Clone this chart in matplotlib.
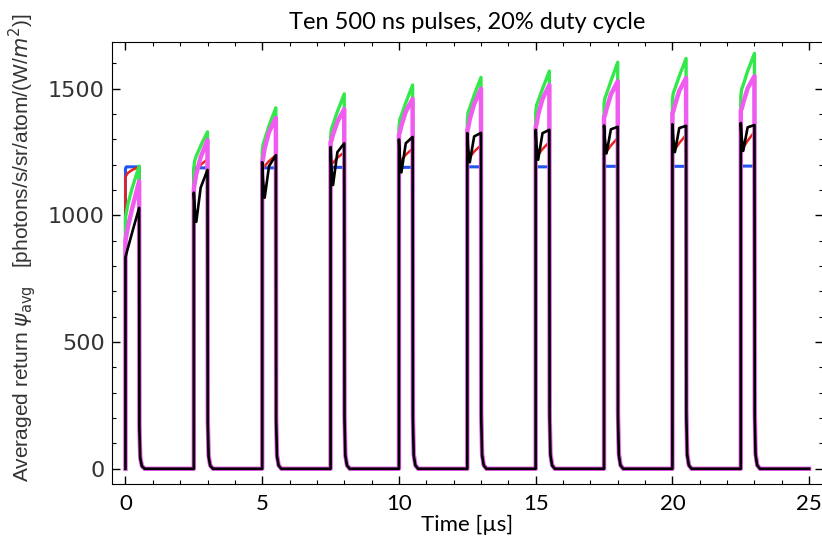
import matplotlib
matplotlib.use('Agg')
import matplotlib.pyplot as plt
from matplotlib.ticker import MultipleLocator
import numpy as np

# pulse layout (µs)
pulse_starts = [0.0, 2.5, 5.0, 7.5, 10.0, 12.5, 15.0, 17.5, 20.0, 22.5]
t_end = 25.0

# sample times inside each pulse, relative to pulse start
pulse_t = [0.0, 0.03, 0.09, 0.25, 0.5]

# falling edge after the pulse: time after pulse end, fraction of end value
tail_t = [0.0, 0.01, 0.04, 0.1, 0.2]
tail_frac = [1.0, 0.15, 0.04, 0.01, 0.0]

# values, one row per pulse
blue_vals = [
    [1185, 1192, 1192, 1192, 1192],
    [1185, 1188, 1188, 1188, 1188],
    [1186, 1188, 1188, 1188, 1188],
    [1188, 1190, 1190, 1190, 1190],
    [1188, 1190, 1190, 1190, 1190],
    [1190, 1192, 1192, 1192, 1192],
    [1190, 1192, 1192, 1192, 1192],
    [1192, 1194, 1194, 1194, 1194],
    [1192, 1194, 1194, 1194, 1194],
    [1192, 1195, 1195, 1195, 1195],
]
red_vals = [
    [1150, 1158, 1168, 1180, 1192],
    [1185, 1178, 1182, 1200, 1222],
    [1205, 1192, 1195, 1215, 1238],
    [1215, 1205, 1208, 1228, 1250],
    [1230, 1215, 1218, 1240, 1264],
    [1240, 1228, 1230, 1252, 1278],
    [1250, 1236, 1240, 1262, 1290],
    [1260, 1248, 1252, 1276, 1306],
    [1270, 1255, 1260, 1286, 1318],
    [1275, 1262, 1268, 1295, 1330],
]
green_vals = [
    [990, 1010, 1045, 1110, 1195],
    [1190, 1215, 1235, 1275, 1330],
    [1250, 1280, 1300, 1355, 1425],
    [1310, 1340, 1360, 1410, 1480],
    [1345, 1378, 1395, 1445, 1515],
    [1375, 1408, 1425, 1475, 1545],
    [1405, 1435, 1452, 1500, 1570],
    [1440, 1462, 1480, 1530, 1605],
    [1456, 1482, 1500, 1550, 1620],
    [1470, 1498, 1515, 1570, 1640],
]
magenta_vals = [
    [900, 920, 955, 1030, 1135],
    [1105, 1125, 1165, 1230, 1298],
    [1210, 1225, 1265, 1330, 1385],
    [1290, 1295, 1320, 1370, 1420],
    [1320, 1328, 1355, 1410, 1460],
    [1338, 1345, 1380, 1440, 1500],
    [1350, 1360, 1398, 1460, 1515],
    [1390, 1395, 1420, 1478, 1530],
    [1405, 1410, 1435, 1492, 1543],
    [1415, 1420, 1445, 1502, 1550],
]
black_vals = [
    [835, 848, 872, 935, 1030],
    [1090, 1030, 975, 1110, 1180],
    [1210, 1140, 1070, 1195, 1238],
    [1270, 1195, 1120, 1250, 1285],
    [1300, 1235, 1170, 1285, 1310],
    [1325, 1268, 1210, 1312, 1326],
    [1338, 1280, 1220, 1325, 1338],
    [1355, 1300, 1245, 1340, 1350],
    [1360, 1305, 1250, 1345, 1354],
    [1365, 1310, 1255, 1348, 1357],
]


def build_trace(vals):
    t, y = [], []
    for start, row in zip(pulse_starts, vals):
        t.append(start)
        y.append(0.0)
        for dt, v in zip(pulse_t, row):
            t.append(start + dt)
            y.append(v)
        end = start + pulse_t[-1]
        for dt, f in zip(tail_t[1:], tail_frac[1:]):
            t.append(end + dt)
            y.append(row[-1] * f)
    t.append(t_end)
    y.append(0.0)
    return np.array(t), np.array(y)


series = [
    (blue_vals, '#2255ee', 2.2),
    (red_vals, '#e8251c', 1.8),
    (green_vals, '#33e84a', 2.4),
    (magenta_vals, '#f05cf0', 3.2),
    (black_vals, '#000000', 1.9),
]

fig = plt.figure(figsize=(8.22, 5.45), dpi=100)
ax = fig.add_axes([0.136, 0.112, 0.865, 0.811])

for vals, color, lw in series:
    t, y = build_trace(vals)
    ax.plot(t, y, color=color, lw=lw, solid_joinstyle='round')

ax.set_xlim(-0.5, 25.5)
ax.set_ylim(-60, 1685)
ax.xaxis.set_major_locator(MultipleLocator(5))
ax.xaxis.set_minor_locator(MultipleLocator(1))
ax.yaxis.set_major_locator(MultipleLocator(500))
ax.yaxis.set_minor_locator(MultipleLocator(100))
ax.tick_params(which='both', direction='in', top=True, right=True)
ax.tick_params(which='major', length=6, width=1)
ax.tick_params(which='minor', length=3, width=0.8)
ax.tick_params(axis='y', labelsize=16, labelcolor='#333333', pad=5)
ax.tick_params(axis='x', pad=7)
for lab in ax.get_xticklabels():
    lab.set_fontfamily('Lato')
    lab.set_fontsize(16)

ax.set_title('Ten 500 ns pulses, 20% duty cycle', fontsize=17, family='Lato', pad=9)
ax.set_xlabel('Time [µs]', fontsize=16, family='Lato', labelpad=1)
ax.set_ylabel(r'Averaged return $\psi_{\rm avg}$   [photons/s/sr/atom/(W/$m^2$)]',
              fontsize=15, color='#333333', family='Liberation Sans')
ax.yaxis.set_label_coords(-0.104, 0.535)

fig.savefig('out.png', dpi=100)
